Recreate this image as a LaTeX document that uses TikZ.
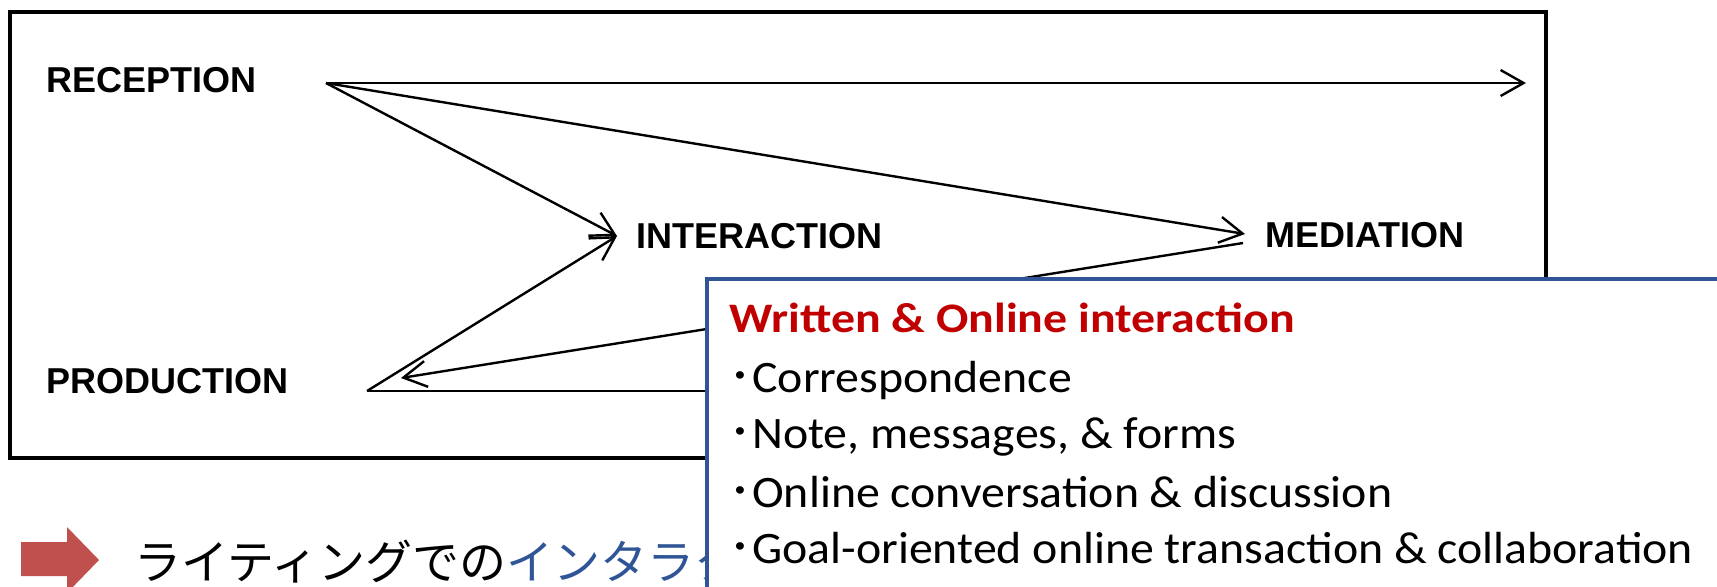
\documentclass[tikz,border=0pt]{standalone}
\usepackage{fontspec}
\setmainfont{Liberation Sans}
\newfontfamily\calfont{Carlito}
\newfontfamily\jpfont{Noto Sans CJK JP}
\usetikzlibrary{arrows.meta}
\definecolor{boxblue}{RGB}{47,85,151}
\definecolor{titlered}{RGB}{192,0,0}
\definecolor{arrowred}{RGB}{192,80,77}
\newcommand{\itemline}[1]{\scalebox{1.063}[1]{{\jpfont ･}#1}}
\begin{document}
\begin{tikzpicture}[x=0.5pt,y=-0.5pt,
  lbl/.style={font=\fontsize{18}{20}\selectfont\bfseries, inner sep=0, anchor=base west},
  conn/.style={line width=1.2pt, -{Straight Barb[length=11.5pt,width=13pt]}},
  plainline/.style={line width=1.2pt},
  itemtxt/.style={font=\calfont\fontsize{22.5}{26}\selectfont, inner sep=0, anchor=base west},
  titletxt/.style={font=\calfont\bfseries\fontsize{21}{24}\selectfont, text=titlered, inner sep=0, anchor=base west}]
\useasboundingbox (0,0) rectangle (1717,586);
\clip (0,0) rectangle (1717,586);
\draw[line width=2pt] (10,12) rectangle (1546,458);
\node[lbl] (rec) at (46,92) {RECEPTION};
\node[lbl] (pro) at (46,393) {PRODUCTION};
\node[lbl] (int) at (636,248) {INTERACTION};
\node[lbl] (med) at (1265,247) {MEDIATION};
\coordinate (r0) at (326,83);
\coordinate (p0) at (367,391);
\coordinate (rend) at (1526,83);
\coordinate (itip) at (617,236);
\coordinate (mtip) at (1245,234);
\coordinate (mlow) at (1243,243);
\coordinate (ptip) at (401,378);
\coordinate (pend) at (1400,391);
\draw[conn] (r0) -- (rend);
\draw[conn] (r0) -- (itip);
\draw[conn] (r0) -- (mtip);
\draw[conn] (p0) -- (itip);
\draw[conn] (mlow) -- (ptip);
\draw[plainline] (p0) -- (pend);
% bottom line
\fill[arrowred] (21,542) -- (67,542) -- (67,527) -- (99,560) -- (67,593) -- (67,576) -- (21,576) -- cycle;
\begin{scope}
\clip (0,480) rectangle (707,586);
\node[anchor=base west, inner sep=0, font=\jpfont\fontsize{23.5}{26}\selectfont] (jp) at (134,579) {ライティングでの\textcolor{boxblue}{インタラク}};
\end{scope}
% blue box
\draw[draw=boxblue, line width=2pt, fill=white] (707,279) rectangle (1760,640);
\node[titletxt] (title) at (729,332) {\scalebox{1.14}[1]{Written \& Online interaction}};
\node[itemtxt] (i1) at (728,392) {\itemline{Correspondence}};
\node[itemtxt] (i2) at (728,448) {\itemline{Note, messages, \& forms}};
\node[itemtxt] (i3) at (728,507) {\itemline{Online conversation \& discussion}};
\node[itemtxt] (i4) at (728,563) {\itemline{Goal-oriented online transaction \& collaboration}};
\end{tikzpicture}
\end{document}
